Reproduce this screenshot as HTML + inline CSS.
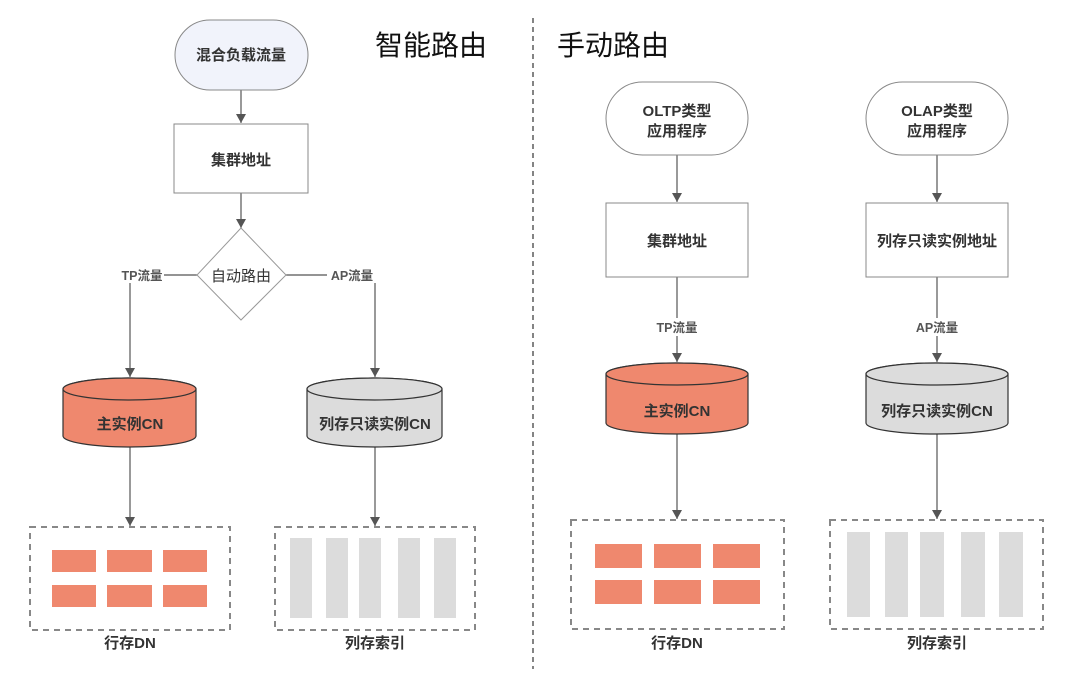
<!DOCTYPE html>
<html><head><meta charset="utf-8"><style>
html,body{margin:0;padding:0;background:#fff;}
svg text{font-family:"Liberation Sans","Noto Sans CJK SC",sans-serif;}
</style></head><body>
<svg width="1080" height="669" viewBox="0 0 1080 669" xmlns="http://www.w3.org/2000/svg">
<defs><marker id="a" markerWidth="10" markerHeight="10" refX="9" refY="5" orient="auto" markerUnits="userSpaceOnUse"><path d="M0,0 L9,5 L0,10 z" fill="#555"/></marker></defs>
<rect width="1080" height="669" fill="#fff"/>
<line x1="533" y1="18" x2="533" y2="669" stroke="#333" stroke-width="1.2" stroke-dasharray="5,4"/>
<text x="375" y="55" font-size="28" fill="#111">智能路由</text>
<text x="557" y="55" font-size="28" fill="#111">手动路由</text>
<g stroke="#555" stroke-width="1.2" fill="none">
<line x1="241" y1="90" x2="241" y2="123" marker-end="url(#a)"/>
<line x1="241" y1="193" x2="241" y2="228" marker-end="url(#a)"/>
<polyline points="197,275 164,275"/><polyline points="286,275 327,275"/>
<line x1="130" y1="283" x2="130" y2="377" marker-end="url(#a)"/>
<line x1="375" y1="283" x2="375" y2="377" marker-end="url(#a)"/>
<line x1="130" y1="447" x2="130" y2="526" marker-end="url(#a)"/>
<line x1="375" y1="447" x2="375" y2="526" marker-end="url(#a)"/>
<line x1="677" y1="155" x2="677" y2="202" marker-end="url(#a)"/>
<line x1="937" y1="155" x2="937" y2="202" marker-end="url(#a)"/>
<line x1="677" y1="277" x2="677" y2="318"/><line x1="677" y1="336" x2="677" y2="362" marker-end="url(#a)"/>
<line x1="937" y1="277" x2="937" y2="318"/><line x1="937" y1="336" x2="937" y2="362" marker-end="url(#a)"/>
<line x1="677" y1="434" x2="677" y2="519" marker-end="url(#a)"/>
<line x1="937" y1="434" x2="937" y2="519" marker-end="url(#a)"/>
</g>
<rect x="175" y="20" width="133" height="70" rx="35" fill="#f1f3fb" stroke="#888"/>
<text x="241" y="60" font-size="15" font-weight="bold" text-anchor="middle" fill="#333">混合负载流量</text>
<rect x="174" y="124" width="134" height="69" fill="#fff" stroke="#888"/>
<text x="241" y="165" font-size="15" font-weight="bold" text-anchor="middle" fill="#333">集群地址</text>
<polygon points="241,228 286,275 241,320 197,275" fill="#fff" stroke="#999"/>
<text x="241" y="281" font-size="15" text-anchor="middle" fill="#333">自动路由</text>
<text x="142" y="280" font-size="12.5" font-weight="bold" text-anchor="middle" fill="#555">TP流量</text>
<text x="352" y="280" font-size="12.5" font-weight="bold" text-anchor="middle" fill="#555">AP流量</text>
<g stroke="#333" stroke-width="1.2">
<path d="M63,389 L63,436 A66.5,11 0 0 0 196,436 L196,389 A66.5,11 0 0 0 63,389 Z" fill="#ef886e"/>
<ellipse cx="129.5" cy="389" rx="66.5" ry="11" fill="#ef886e"/>
<path d="M307,389 L307,436 A67.5,11 0 0 0 442,436 L442,389 A67.5,11 0 0 0 307,389 Z" fill="#dcdcdc"/>
<ellipse cx="374.5" cy="389" rx="67.5" ry="11" fill="#dcdcdc"/>
<path d="M606,374 L606,423 A71,11 0 0 0 748,423 L748,374 A71,11 0 0 0 606,374 Z" fill="#ef886e"/>
<ellipse cx="677" cy="374" rx="71" ry="11" fill="#ef886e"/>
<path d="M866,374 L866,423 A71,11 0 0 0 1008,423 L1008,374 A71,11 0 0 0 866,374 Z" fill="#dcdcdc"/>
<ellipse cx="937" cy="374" rx="71" ry="11" fill="#dcdcdc"/>
</g>
<text x="130" y="429" font-size="15" font-weight="bold" text-anchor="middle" fill="#333">主实例CN</text>
<text x="375" y="429" font-size="15" font-weight="bold" text-anchor="middle" fill="#333">列存只读实例CN</text>
<text x="677" y="416" font-size="15" font-weight="bold" text-anchor="middle" fill="#333">主实例CN</text>
<text x="937" y="416" font-size="15" font-weight="bold" text-anchor="middle" fill="#333">列存只读实例CN</text>
<g fill="none" stroke="#888" stroke-width="2" stroke-dasharray="6,5">
<rect x="30" y="527" width="200" height="103"/><rect x="275" y="527" width="200" height="103"/>
<rect x="571" y="520" width="213" height="109"/><rect x="830" y="520" width="213" height="109"/>
</g>
<g fill="#ef886e">
<rect x="52" y="550" width="44" height="22"/><rect x="107" y="550" width="45" height="22"/><rect x="163" y="550" width="44" height="22"/>
<rect x="52" y="585" width="44" height="22"/><rect x="107" y="585" width="45" height="22"/><rect x="163" y="585" width="44" height="22"/>
<rect x="595" y="544" width="47" height="24"/><rect x="654" y="544" width="47" height="24"/><rect x="713" y="544" width="47" height="24"/>
<rect x="595" y="580" width="47" height="24"/><rect x="654" y="580" width="47" height="24"/><rect x="713" y="580" width="47" height="24"/>
</g>
<g fill="#dcdcdc">
<rect x="290" y="538" width="22" height="80"/><rect x="326" y="538" width="22" height="80"/><rect x="359" y="538" width="22" height="80"/><rect x="398" y="538" width="22" height="80"/><rect x="434" y="538" width="22" height="80"/>
<rect x="847" y="532" width="23" height="85"/><rect x="885" y="532" width="23" height="85"/><rect x="920" y="532" width="24" height="85"/><rect x="961" y="532" width="24" height="85"/><rect x="999" y="532" width="24" height="85"/>
</g>
<text x="130" y="648" font-size="15" font-weight="bold" text-anchor="middle" fill="#333">行存DN</text>
<text x="375" y="648" font-size="15" font-weight="bold" text-anchor="middle" fill="#333">列存索引</text>
<text x="677" y="648" font-size="15" font-weight="bold" text-anchor="middle" fill="#333">行存DN</text>
<text x="937" y="648" font-size="15" font-weight="bold" text-anchor="middle" fill="#333">列存索引</text>
<rect x="606" y="82" width="142" height="73" rx="36.5" fill="#fff" stroke="#888"/>
<text x="677" y="116" font-size="15" font-weight="bold" text-anchor="middle" fill="#333">OLTP类型</text>
<text x="677" y="136" font-size="15" font-weight="bold" text-anchor="middle" fill="#333">应用程序</text>
<rect x="866" y="82" width="142" height="73" rx="36.5" fill="#fff" stroke="#888"/>
<text x="937" y="116" font-size="15" font-weight="bold" text-anchor="middle" fill="#333">OLAP类型</text>
<text x="937" y="136" font-size="15" font-weight="bold" text-anchor="middle" fill="#333">应用程序</text>
<rect x="606" y="203" width="142" height="74" fill="#fff" stroke="#888"/>
<text x="677" y="246" font-size="15" font-weight="bold" text-anchor="middle" fill="#333">集群地址</text>
<rect x="866" y="203" width="142" height="74" fill="#fff" stroke="#888"/>
<text x="937" y="246" font-size="15" font-weight="bold" text-anchor="middle" fill="#333">列存只读实例地址</text>
<text x="677" y="332" font-size="12.5" font-weight="bold" text-anchor="middle" fill="#555">TP流量</text>
<text x="937" y="332" font-size="12.5" font-weight="bold" text-anchor="middle" fill="#555">AP流量</text>
</svg>
</body></html>
